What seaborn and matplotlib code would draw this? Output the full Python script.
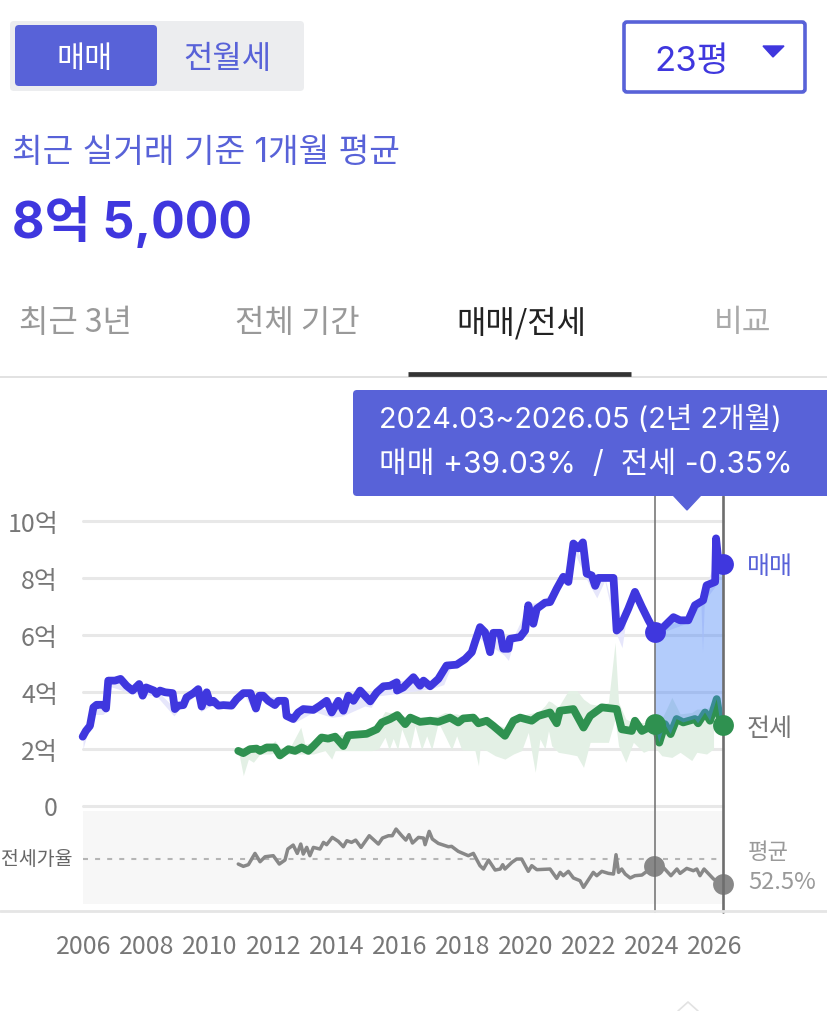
import matplotlib
matplotlib.use('Agg')
import matplotlib.pyplot as plt
from matplotlib.patches import FancyBboxPatch, Polygon
import numpy as np
import seaborn as sns

# sale price (eok)
sale_x = [2005.96,2006.06,2006.19,2006.30,2006.40,2006.61,2006.70,2006.77,2006.98,2007.16,2007.35,2007.54,2007.75,2007.86,2007.97,2008.22,2008.30,2008.41,2008.57,2008.81,2008.88,2008.99,2009.15,2009.25,2009.47,2009.62,2009.73,2009.89,2009.99,2010.10,2010.26,2010.42,2010.68,2010.84,2011.05,2011.28,2011.45,2011.56,2011.68,2011.84,2012.05,2012.16,2012.37,2012.42,2012.63,2012.79,2012.95,2013.27,2013.48,2013.69,2013.85,2014.06,2014.22,2014.38,2014.54,2014.75,2015.07,2015.28,2015.49,2015.70,2015.91,2015.92,2016.12,2016.44,2016.65,2016.76,2016.97,2017.23,2017.49,2017.81,2018.08,2018.29,2018.39,2018.55,2018.71,2018.87,2018.97,2019.19,2019.29,2019.45,2019.50,2019.82,2019.98,2020.08,2020.24,2020.35,2020.61,2020.77,2020.98,2021.19,2021.35,2021.51,2021.67,2021.81,2021.93,2022.09,2022.20,2022.30,2022.78,2022.88,2022.99,2023.25,2023.46,2023.68,2023.89,2024.10,2024.36,2024.68,2024.89,2025.15,2025.36,2025.62,2025.73,2026.00,2026.03,2026.10,2026.25]
sale_y = [2.42,2.62,2.80,3.45,3.54,3.54,3.41,4.39,4.39,4.45,4.21,4.04,4.27,3.86,4.15,4.04,3.92,4.04,3.98,3.95,3.39,3.51,3.53,3.80,3.95,4.09,3.48,3.98,3.62,3.68,3.51,3.53,3.51,3.74,3.95,3.95,3.41,3.86,3.86,3.68,3.53,3.68,3.68,3.15,3.04,3.27,3.39,3.36,3.51,3.68,3.27,3.68,3.33,3.86,3.68,4.04,3.66,3.98,4.19,4.21,4.33,4.04,4.15,4.51,4.21,4.39,4.19,4.45,4.92,4.95,5.15,5.39,5.74,6.27,6.09,5.39,6.07,6.07,5.51,5.51,5.86,5.92,6.15,7.04,6.39,6.92,7.13,7.15,7.62,8.04,7.86,9.21,9.04,9.25,8.15,8.09,7.72,8.00,8.00,6.15,6.27,6.92,7.51,6.98,6.51,6.09,6.27,6.62,6.51,6.51,7.04,7.21,7.74,7.86,9.39,8.62,8.50]

# jeonse price (eok)
rent_x = [2010.89,2011.05,2011.26,2011.47,2011.58,2011.79,2012.05,2012.21,2012.48,2012.69,2012.90,2013.11,2013.27,2013.53,2013.74,2013.96,2014.22,2014.38,2014.96,2015.28,2015.44,2015.70,2015.93,2016.18,2016.34,2016.65,2016.97,2017.23,2017.60,2017.86,2018.02,2018.34,2018.50,2018.76,2018.97,2019.34,2019.61,2019.82,2020.19,2020.40,2020.77,2020.98,2021.08,2021.51,2021.83,2022.04,2022.41,2022.88,2023.04,2023.36,2023.46,2023.68,2024.10,2024.23,2024.41,2024.59,2024.78,2024.99,2025.36,2025.46,2025.68,2025.84,2026.05,2026.15,2026.25]
rent_y = [1.92,1.84,1.98,2.00,1.92,2.04,2.04,1.76,1.98,1.92,2.04,1.92,2.09,2.39,2.35,2.42,2.09,2.47,2.52,2.68,2.92,3.04,3.18,2.86,3.09,2.94,2.98,2.94,3.09,2.92,3.06,3.09,2.89,2.98,2.80,2.45,2.98,3.09,2.98,3.15,3.27,2.89,3.33,3.39,2.74,3.15,3.45,3.39,2.68,2.62,2.98,2.62,2.86,2.21,2.86,2.51,3.04,2.92,3.04,2.89,3.27,2.98,3.74,3.04,2.84]

# min/max bands around the averages
sale_band_x = [2005.97,2006.10,2006.30,2006.60,2006.70,2006.78,2007.50,2008.30,2008.85,2009.00,2009.50,2009.70,2010.00,2010.60,2011.10,2011.40,2011.60,2012.35,2012.50,2012.65,2013.30,2013.85,2014.20,2014.90,2015.10,2015.30,2016.00,2017.00,2017.40,2017.60,2018.10,2018.50,2019.30,2019.45,2019.60,2020.10,2020.50,2020.90,2021.20,2021.50,2021.90,2022.25,2022.50,2022.90,2023.05,2023.20,2023.50,2023.80,2024.10,2025.20,2025.55,2025.60,2025.66,2026.00]
sale_band_low = [2.00,2.50,3.20,3.20,3.30,4.20,3.95,3.85,3.15,3.35,3.85,3.30,3.50,3.40,3.85,3.25,3.70,3.55,3.00,2.90,3.30,3.10,3.15,3.50,3.45,3.85,3.95,4.10,4.25,4.80,5.00,5.90,5.30,5.10,5.70,6.60,6.90,7.30,7.90,9.00,8.00,7.30,7.90,5.95,5.55,6.70,7.40,6.60,6.00,6.45,7.10,5.40,7.20,7.70]
sale_band_high = [2.50,2.70,3.50,3.55,3.50,4.45,4.10,4.05,3.45,3.55,4.00,3.60,3.70,3.55,4.00,3.50,3.90,3.75,3.20,3.10,3.45,3.35,3.40,3.90,3.75,4.05,4.40,4.25,4.95,5.00,5.25,6.35,5.60,5.60,5.90,7.10,7.15,7.60,8.10,9.30,8.30,7.90,8.05,6.30,6.35,7.00,7.60,6.80,6.20,6.60,7.25,7.25,7.60,8.60]

rent_band_x = [2010.89,2011.05,2011.21,2011.37,2011.58,2011.90,2012.05,2012.21,2012.53,2012.87,2013.00,2013.27,2013.64,2013.85,2013.96,2014.27,2015.12,2015.33,2015.54,2015.67,2015.80,2015.94,2016.07,2016.33,2016.49,2016.70,2016.86,2017.02,2017.23,2017.44,2017.65,2017.81,2017.97,2018.39,2018.50,2018.55,2018.76,2019.03,2019.34,2019.61,2019.87,2020.08,2020.30,2020.45,2020.61,2020.72,2020.82,2021.03,2021.35,2021.62,2021.83,2022.04,2022.36,2022.62,2022.83,2022.94,2023.17,2023.41,2023.73,2024.10,2024.31,2024.63,2024.89,2025.26,2025.42,2025.73,2025.95]
rent_band_low = [1.93,1.05,1.63,1.52,1.81,1.81,1.85,1.81,1.81,1.81,1.81,1.81,1.93,1.63,1.93,1.93,1.93,1.99,2.40,1.96,2.36,1.96,2.69,1.96,2.80,1.96,2.45,1.96,2.92,2.45,1.96,2.45,1.96,1.93,1.40,1.99,1.93,1.75,1.63,1.81,1.93,2.57,1.17,2.34,1.99,2.63,2.10,1.87,1.81,1.75,1.34,2.22,2.22,2.22,3.04,2.10,1.52,2.22,1.87,2.04,1.75,1.69,1.87,1.58,1.87,1.81,1.99]
rent_band_high = [2.04,2.04,2.04,2.04,2.10,2.10,2.28,2.04,2.04,2.75,2.16,2.22,2.45,2.45,2.45,2.51,2.69,2.92,3.31,3.27,3.27,3.27,3.16,3.10,3.10,3.10,3.10,3.10,3.16,3.27,3.22,3.22,3.16,3.16,3.04,3.10,3.04,2.86,2.75,2.92,3.16,3.22,3.27,3.33,3.51,3.68,3.63,3.45,4.04,4.04,3.74,3.57,3.51,3.63,5.73,3.63,3.04,2.92,2.92,2.92,3.04,3.80,3.22,3.27,3.39,3.39,3.63]

# jeonse ratio (%)
ratio_x = [2010.89,2011.05,2011.21,2011.42,2011.58,2011.74,2012.00,2012.19,2012.37,2012.46,2012.63,2012.76,2012.87,2012.95,2013.06,2013.16,2013.27,2013.48,2013.59,2013.69,2013.87,2014.06,2014.22,2014.33,2014.48,2014.61,2014.78,2015.04,2015.33,2015.46,2015.65,2015.77,2015.89,2016.07,2016.20,2016.30,2016.41,2016.60,2016.76,2016.81,2016.94,2017.04,2017.23,2017.55,2017.65,2017.86,2018.18,2018.34,2018.55,2018.66,2018.82,2019.03,2019.19,2019.27,2019.34,2019.56,2019.71,2019.87,2020.08,2020.19,2020.35,2020.77,2020.98,2021.09,2021.19,2021.35,2021.51,2021.72,2021.83,2022.14,2022.25,2022.41,2022.62,2022.78,2022.86,2022.94,2023.04,2023.15,2023.31,2023.46,2023.68,2024.07,2024.31,2024.60,2024.79,2024.89,2025.10,2025.31,2025.42,2025.52,2025.65,2025.95,2026.25]
ratio_y = [48.6,46.8,48.1,56.9,50.4,54.3,55.1,48.6,51.7,60.3,63.4,56.9,64.2,56.4,61.6,55.1,61.6,60.3,65.5,63.7,69.4,66.3,62.1,66.8,65.5,67.3,61.6,70.7,64.2,68.9,70.7,70.7,75.9,70.7,67.3,71.5,65.0,69.4,68.9,63.7,74.1,68.1,64.7,62.1,62.4,58.5,55.1,56.9,47.3,44.7,51.7,43.9,44.7,48.1,44.7,49.9,52.5,52.5,42.9,47.3,44.2,44.7,37.4,42.1,39.5,42.9,37.7,35.6,30.4,42.1,39.5,42.9,41.3,40.8,55.9,42.1,44.7,40.8,37.7,39.5,40.0,47.3,47.3,39.5,44.7,41.3,45.2,43.4,44.7,39.5,44.7,36.9,33.3]
ratio_avg = 52.5

year_ticks = [2006,2008,2010,2012,2014,2016,2018,2020,2022,2024,2026]
price_ticks = [0,2,4,6,8,10]
price_labels = ['0','2억','4억','6억','8억','10억']
period_start = 2024.10
period_end = 2026.25

BLUE = '#3F37DE'
BTN = '#5862D8'
GREEN = '#2F9150'
W, H = 827, 1012
LATIN = ['Inter', 'Noto Sans CJK KR']

sns.set_theme(style='white')
plt.rcParams['font.family'] = ['Noto Sans CJK KR', 'DejaVu Sans']

def rect(x0, y0, x1, y1):
    return [x0 / W, 1 - y1 / H, (x1 - x0) / W, (y1 - y0) / H]

fig = plt.figure(figsize=(W / 100, H / 100), dpi=100)

# price chart
ax = fig.add_axes(rect(83, 497, 723, 806.5))
ax.patch.set_alpha(0)
ax.set_zorder(3)
ax.set_xlim(2005.97, 2026.25)
ax.set_ylim(0, 10.88)
ax.set_yticks(price_ticks, price_labels, fontsize=18, color='#777777')
ax.set_xticks([])
ax.tick_params(axis='y', length=0, pad=18)
ax.grid(axis='y', color='#E8E8E8', linewidth=2.2, clip_on=False)
ax.set_axisbelow(True)
sns.despine(ax=ax, left=True, bottom=True)

ax.fill_between(sale_band_x, sale_band_low, sale_band_high, color='#E6E6FB', linewidth=0, zorder=1)
ax.fill_between(rent_band_x, rent_band_low, rent_band_high, color='#E3F0E5', linewidth=0, zorder=1)
sns.lineplot(x=rent_x, y=rent_y, sort=False, estimator=None, color=GREEN, linewidth=5.6, ax=ax, zorder=3, clip_on=False)

# shaded period between the two lines
sale_x_arr, sale_y_arr = np.array(sale_x), np.array(sale_y)
rent_x_arr, rent_y_arr = np.array(rent_x), np.array(rent_y)
s = sale_x_arr >= period_start
r = rent_x_arr >= period_start
shade_x = np.r_[sale_x_arr[s], rent_x_arr[r][::-1]]
shade_y = np.r_[sale_y_arr[s], rent_y_arr[r][::-1]]
ax.fill(shade_x, shade_y, color='#4A86F7', alpha=0.42, linewidth=0, zorder=4)

sns.lineplot(x=sale_x, y=sale_y, sort=False, estimator=None, color=BLUE, linewidth=5.6, ax=ax, zorder=5, clip_on=False)

for x in [period_start, period_end]:
    lw = 1.1 if x == period_start else 1.9
    ax.axvline(x, ymin=-0.344, ymax=1, color='#6E6E6E', linewidth=lw, clip_on=False, zorder=6)

marks = [(period_start, sale_y[sale_x.index(period_start)], BLUE), (period_end, sale_y[-1], BLUE),
         (period_start, rent_y[rent_x.index(period_start)], GREEN), (period_end, rent_y[-1], GREEN)]
for x, y, c in marks:
    ax.plot(x, y, 'o', color=c, markersize=15, markeredgewidth=0, clip_on=False, zorder=7)

# ratio panel
ax2 = fig.add_axes(rect(83, 812, 723, 905))
ax2.set_zorder(2)
ax2.set_facecolor('#F7F7F7')
ax2.set_xlim(2005.97, 2026.25)
ax2.set_ylim(17.4, 90)
ax2.set_yticks([])
ax2.set_xticks(year_ticks, [str(y) for y in year_ticks], fontsize=18, color='#777777')
ax2.tick_params(axis='x', length=0, pad=21)
sns.despine(ax=ax2, left=True, bottom=True)
ax2.axhline(ratio_avg, color='#B5B5B5', linewidth=1.5, linestyle=(0, (2.4, 3.4)), zorder=1)
sns.lineplot(x=ratio_x, y=ratio_y, sort=False, estimator=None, color='#888888', linewidth=2.5, ax=ax2, zorder=3)
ax2.plot([2024.07, ratio_x[-1]], [ratio_y[ratio_x.index(2024.07)], ratio_y[-1]], 'o',
         color='#888888', markersize=15, markeredgewidth=0, clip_on=False, zorder=4)

# page furniture in pixel coordinates
ui = fig.add_axes([0, 0, 1, 1])
ui.set_zorder(5)
ui.patch.set_alpha(0)
ui.set_xlim(0, W)
ui.set_ylim(H, 0)
ui.axis('off')

def box(x0, y0, x1, y1, face, edge='none', lw=0, r=4):
    ui.add_patch(FancyBboxPatch((x0 + r, y0 + r), x1 - x0 - 2 * r, y1 - y0 - 2 * r,
                                boxstyle=f'round,pad={r},rounding_size={r}', facecolor=face, edgecolor=edge, linewidth=lw))

def label(x, y, s, size, color, ha='left', weight='normal', family=None):
    ui.text(x, y, s, fontsize=size, color=color, ha=ha, va='center', fontweight=weight, family=family)

box(10, 22, 304, 92, '#ECEDEF')
box(15, 26, 157, 87, BTN)
label(85, 59, '매매', 22, 'white', 'center')
label(227, 59, '전월세', 23, BTN, 'center')
box(624, 23, 805, 93, 'white', BTN, 2.6, 3)
label(692, 62, '23평', 25, BLUE, 'center', family=LATIN)
ui.add_patch(Polygon([[763, 47], [784, 47], [773, 58]], color=BLUE))

label(12, 153, '최근 실거래 기준 1개월 평균', 24, BTN, family=LATIN)
label(12, 222, '8억 5,000', 36, BLUE, weight='bold', family=LATIN)

label(75, 323, '최근 3년', 23, '#999999', 'center')
label(297, 323, '전체 기간', 23, '#999999', 'center')
label(521, 323, '매매/전세', 23, '#222222', 'center')
label(743, 323, '비교', 22.5, '#AAAAAA', 'center')
ui.plot([0, W], [378, 378], color='#DDDDDD', linewidth=1.2)
ui.plot([408, 631], [374.5, 374.5], color='#333333', linewidth=3.4, solid_capstyle='butt')

box(353, 391, 840, 497, BTN)
ui.add_patch(Polygon([[673, 496], [701, 496], [687, 511]], color=BTN))
label(379, 420, '2024.03~2026.05 (2년 2개월)', 20.8, 'white', family=LATIN)
label(379, 465, '매매 +39.03%  /  전세 -0.35%', 21.7, 'white', family=LATIN)

label(747, 567, '매매', 18, BTN)
label(747, 729, '전세', 18, '#777777')
label(748, 853, '평균', 16, '#999999')
label(748, 883, '52.5%', 17, '#999999')
label(73, 860, '전세가율', 14, '#666666', 'right')

ui.plot([0, W], [912, 912], color='#E5E5E5', linewidth=2, zorder=1)
ui.plot([678, 688, 698], [1012, 1003, 1012], color='#E2E2E2', linewidth=1.2)

fig.savefig('out.png', dpi=100)
